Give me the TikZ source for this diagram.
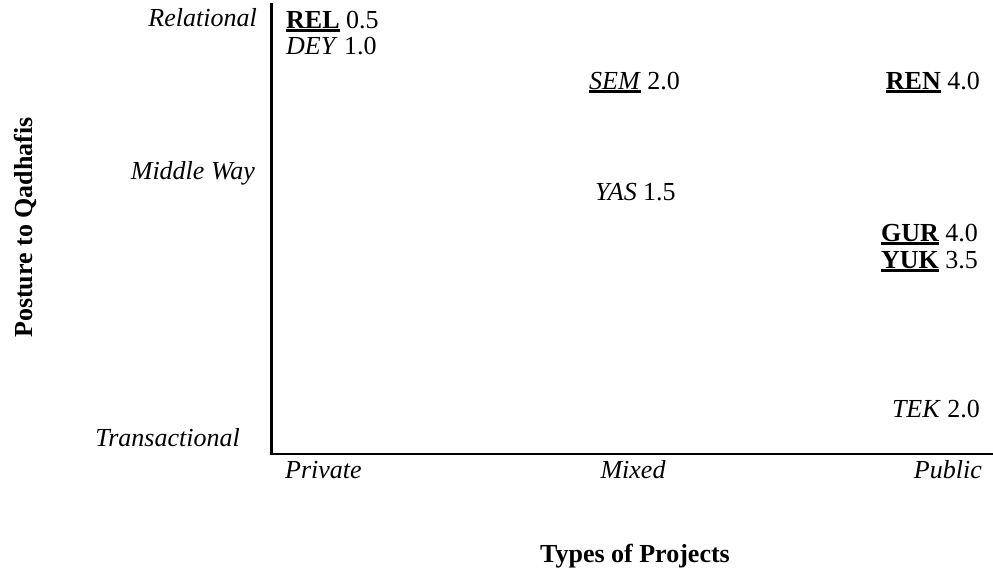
\documentclass[tikz,border=0pt]{standalone}
\usepackage{fontspec}
\setmainfont{Liberation Serif}
% thick underline placed just below the baseline
\newcommand{\thickul}[1]{\leavevmode\vtop{\hbox{#1}\kern1.2pt\hrule height 2.4pt}}
\begin{document}
\begin{tikzpicture}[x=1pt,y=-1pt,
  lbl/.style={inner sep=0pt,font=\fontsize{26}{31}\selectfont},
  axis/.style={line width=2.7pt}]
\useasboundingbox (0,0) rectangle (993,571);

% axes
\coordinate (top) at (271.5,3);
\coordinate (origin) at (271.5,454);
\coordinate (right) at (993,454);
\draw[axis] (top) -- (origin) -- (right);

% vertical scale labels
\node[lbl,anchor=base east] (rel) at (257,26) {\itshape Relational};
\node[lbl,anchor=base east] (mid) at (255,179) {\itshape Middle Way};
\node[lbl,anchor=base east] (tra) at (240,446) {\itshape Transactional};

% horizontal scale labels
\node[lbl,anchor=base west] (pri) at (285,478) {\itshape Private};
\node[lbl,anchor=base] (mix) at (633,478) {\itshape Mixed};
\node[lbl,anchor=base east] (pub) at (982,478) {\itshape Public};

% axis titles
\node[lbl,anchor=base] (xt) at (635,562) {\bfseries Types of Projects};
\node[lbl,anchor=base,rotate=90] (yt) at (32,227.5) {\bfseries Posture to Qadhafis};

% data points
\node[lbl,anchor=base west] (REL) at (286,28) {\thickul{\bfseries REL} 0.5};
\node[lbl,anchor=base west] (DEY) at (286,54) {\itshape DEY\/\upshape{} 1.0};
\node[lbl,anchor=base west] (SEM) at (589,89) {\thickul{\itshape SEM\/} 2.0};
\node[lbl,anchor=base east] (REN) at (980,89) {\thickul{\bfseries REN} 4.0};
\node[lbl,anchor=base west] (YAS) at (595,200) {\itshape YAS\/\upshape{} 1.5};
\node[lbl,anchor=base east] (GUR) at (978,241) {\thickul{\bfseries GUR} 4.0};
\node[lbl,anchor=base east] (YUK) at (978,268) {\thickul{\bfseries YUK} 3.5};
\node[lbl,anchor=base east] (TEK) at (980,417) {\itshape TEK\/\upshape{} 2.0};
\end{tikzpicture}
\end{document}
